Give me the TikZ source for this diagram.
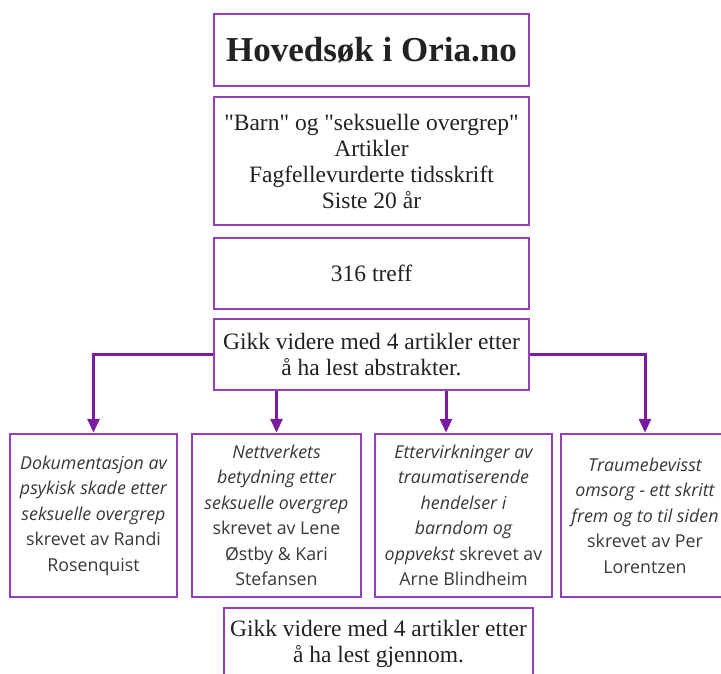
\documentclass[tikz,border=0pt]{standalone}
\usepackage{fontspec}
\setmainfont{Liberation Serif}
\newfontfamily\opensans{Open Sans}
\usetikzlibrary{positioning}
\usetikzlibrary{arrows.meta}
\usetikzlibrary{calc}

\definecolor{boxpurple}{RGB}{150,62,190}
\definecolor{linepurple}{RGB}{122,28,160}
\definecolor{textgray}{RGB}{34,34,34}

\tikzset{
    stepbox/.style={draw=boxpurple, line width=2.5pt, fill=white, inner sep=0pt,
        align=center, text=textgray, minimum width=315pt,
        font=\fontsize{23.5}{26}\selectfont},
    paperbox/.style={draw=boxpurple, line width=2.5pt, fill=white, inner sep=0pt,
        align=center, text=textgray!90, minimum height=163pt,
        font=\opensans\fontsize{17.8}{25.5}\selectfont},
    conn/.style={draw=linepurple, line width=3pt,
        -{Triangle[width=12pt,length=14pt]}},
}

\begin{document}
\begin{tikzpicture}[x=1pt, y=-1pt]
        \useasboundingbox (0,0) rectangle (721,673);

        \node[stepbox, minimum height=72pt, font=\bfseries\fontsize{35}{40}\selectfont] (title) at (371.5,50) {Hovedsøk i Oria.no};
        \node[stepbox, minimum height=128pt] (search) at (371.5,161) {\textquotedbl Barn\textquotedbl{} og \textquotedbl seksuelle overgrep\textquotedbl\\ Artikler\\ Fagfellevurderte tidsskrift\\ Siste 20 år};
        \node[stepbox, minimum height=71pt] (hits) at (371.5,273.5) {316 treff};
        \node[stepbox, minimum height=71pt] (abs) at (371.5,354.5) {Gikk videre med 4 artikler etter\\ å ha lest abstrakter.};

        \node[paperbox, minimum width=167pt] (pa) at (93.5,515.5) {\itshape Dokumentasjon av\\ \itshape psykisk skade etter\\ \itshape seksuelle overgrep\\ skrevet av Randi\\ Rosenquist};
        \node[paperbox, minimum width=169pt] (pb) at (276.5,515.5) {\itshape Nettverkets\\ \itshape betydning etter\\ \itshape seksuelle overgrep\\ skrevet av Lene\\ Østby \& Kari\\ Stefansen};
        \node[paperbox, minimum width=177pt] (pc) at (463.5,515.5) {\itshape Ettervirkninger av\\ \itshape traumatiserende\\ \itshape hendelser i\\ \itshape barndom og\\ {\itshape oppvekst} skrevet av\\ Arne Blindheim};
        \node[paperbox, minimum width=168pt] (pd) at (645,515.5) {\itshape Traumebevisst\\ \itshape omsorg - ett skritt\\ \itshape frem og to til siden\\ skrevet av Per\\ Lorentzen};

        \node[stepbox, minimum width=309pt, minimum height=71pt] (read) at (378.5,643.5) {Gikk videre med 4 artikler etter\\ å ha lest gjennom.};

        \draw[conn] (abs.west) -| (pa.north);
        \draw[conn] (abs.south -| pb.north) -- (pb.north);
        \draw[conn] ([xshift=74.5]abs.south) -- ([xshift=74.5]abs.south |- pc.north);
        \draw[conn] (abs.east) -| (pd.north);

    \end{tikzpicture}
\end{document}
